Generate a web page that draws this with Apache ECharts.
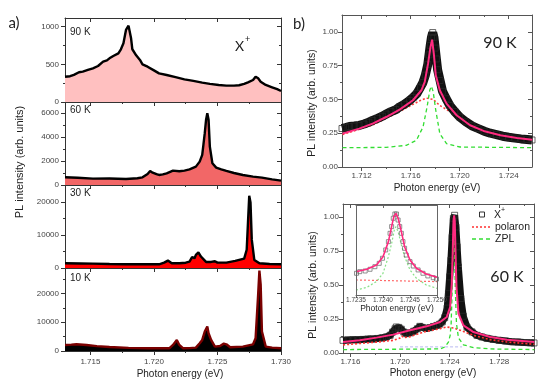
<!DOCTYPE html>
<html><head><meta charset="utf-8">
<script src="https://cdn.jsdelivr.net/npm/echarts@6/dist/echarts.min.js"></script>
<style>html,body{margin:0;padding:0;background:#fff}#c{width:550px;height:387px}</style>
</head><body><div id="c"></div>
<script>
// ---------- a) panels (PL spectra) ----------
const E90 = [1.7130,1.7134,1.7137,1.7141,1.7144,1.7148,1.7152,1.7156,1.7160,1.7163,1.7165,1.7168,1.7172,1.7174,1.7176,1.7178,1.7180,1.7182,1.7183,1.7186,1.7189,1.7191,1.7195,1.7200,1.7204,1.7210,1.7217,1.7224,1.7231,1.7238,1.7244,1.7251,1.7257,1.7263,1.7267,1.7271,1.7274,1.7278,1.7280,1.7282,1.7284,1.7288,1.7293,1.7297,1.7300];
const I90 = [336,342,360,395,403,425,447,478,535,552,580,610,646,700,779,956,1013,845,700,620,558,500,469,420,380,358,330,301,280,257,240,226,217,217,222,240,261,292,336,314,270,226,195,170,146];
const E60 = [1.7130,1.7140,1.7152,1.7165,1.7178,1.7187,1.7191,1.7195,1.7197,1.7199,1.7202,1.7204,1.7207,1.7210,1.7215,1.7220,1.7224,1.7228,1.7233,1.7236,1.7238,1.7239,1.7240,1.7241,1.7242,1.7243,1.7244,1.7246,1.7249,1.7253,1.7257,1.7263,1.7270,1.7278,1.7285,1.7293,1.7300];
const I60 = [639,600,528,540,500,560,639,917,1167,1028,900,833,880,972,1194,1139,1200,1306,1528,1944,2500,3400,4306,5400,5972,5417,3194,1806,1444,1300,1167,1000,833,700,611,472,361];
const E30 = [1.7130,1.7142,1.7152,1.7165,1.7178,1.7192,1.7204,1.7208,1.7211,1.7214,1.7220,1.7225,1.7228,1.7230,1.7232,1.7233,1.7235,1.7237,1.7241,1.7245,1.7248,1.7250,1.7254,1.7257,1.7264,1.7271,1.7273,1.7274,1.7275,1.7276,1.7277,1.7279,1.7283,1.7291,1.7300];
const I30 = [1429,1380,1327,1200,1122,1122,1122,1633,2245,1429,1429,1600,1939,3265,2959,3980,4694,3469,1837,1837,2041,1633,1633,1633,2143,2857,5510,13673,21837,19796,8571,2449,1429,1224,1122];
const E10 = [1.7130,1.7135,1.7139,1.7147,1.7155,1.7165,1.7180,1.7195,1.7212,1.7215,1.7218,1.7220,1.7223,1.7228,1.7233,1.7236,1.7238,1.7240,1.7242,1.7243,1.7245,1.7248,1.7252,1.7255,1.7257,1.7260,1.7270,1.7278,1.7280,1.7282,1.7283,1.7284,1.7285,1.7288,1.7293,1.7300];
const I10 = [2093,2200,2326,2093,1700,1395,1100,930,930,2093,3837,2093,930,1000,1163,2674,3837,6744,8488,6163,3837,1512,1744,2558,2326,1279,1512,2326,4419,19535,27907,23023,6744,1512,1163,930];

// ---------- b) 90 K fit ----------
const D90E = [1.7104,1.7107,1.7110,1.7114,1.7118,1.7122,1.7126,1.7129,1.7133,1.7137,1.7140,1.7144,1.7148,1.7151,1.7155,1.7159,1.7162,1.7165,1.7168,1.7170,1.7172,1.7174,1.7175,1.7176,1.7177,1.7178,1.7179,1.7180,1.7181,1.7182,1.7184,1.7186,1.7189,1.7192,1.7196,1.7200,1.7205,1.7210,1.7215,1.7220,1.7225,1.7230,1.7235,1.7240,1.7245,1.7250,1.7255,1.7259];
const D90 = [0.285,0.292,0.300,0.303,0.308,0.318,0.332,0.345,0.360,0.376,0.392,0.410,0.425,0.445,0.465,0.492,0.515,0.543,0.590,0.625,0.680,0.760,0.830,0.900,0.960,0.995,0.960,0.880,0.800,0.720,0.640,0.560,0.505,0.455,0.410,0.370,0.335,0.305,0.285,0.265,0.250,0.240,0.228,0.220,0.214,0.208,0.204,0.200];
const F90E = [1.71044,1.71181,1.71290,1.71400,1.71510,1.71619,1.71688,1.71715,1.71742,1.71762,1.71775,1.71789,1.71805,1.71838,1.71893,1.71975,1.72085,1.72195,1.72332,1.72468,1.72592];
const F90 = [0.247,0.284,0.321,0.370,0.425,0.494,0.568,0.630,0.765,0.889,0.943,0.840,0.679,0.568,0.469,0.383,0.309,0.267,0.235,0.215,0.202];
const P90E = [1.71044,1.71290,1.71510,1.71674,1.71729,1.71784,1.71838,1.71921,1.72058,1.72249,1.72592];
const P90 = [0.240,0.310,0.410,0.490,0.510,0.500,0.455,0.410,0.330,0.260,0.200];
const Z90E = [1.71044,1.71400,1.71564,1.71647,1.71701,1.71734,1.71756,1.71770,1.71784,1.71805,1.71838,1.71893,1.72003,1.72592];
const Z90 = [0.143,0.145,0.160,0.198,0.296,0.444,0.568,0.598,0.556,0.420,0.247,0.173,0.148,0.143];

// ---------- b) 60 K fit ----------
const D60E = [1.7154,1.7158,1.7162,1.7166,1.7170,1.7174,1.7178,1.7182,1.7186,1.7189,1.7192,1.7194,1.7196,1.7197,1.7199,1.7201,1.7203,1.7205,1.7208,1.7211,1.7214,1.7216,1.7218,1.7221,1.7224,1.7227,1.7230,1.7232,1.7234,1.7236,1.7238,1.7239,1.7240,1.7241,1.7242,1.7243,1.7244,1.7245,1.7246,1.7247,1.7249,1.7251,1.7254,1.7258,1.7262,1.7266,1.7270,1.7275,1.7280,1.7285,1.7290,1.7295,1.7300,1.7305,1.7308];
const D60 = [0.093,0.095,0.097,0.098,0.100,0.102,0.103,0.107,0.112,0.118,0.130,0.154,0.178,0.191,0.188,0.175,0.154,0.142,0.148,0.160,0.178,0.196,0.188,0.180,0.186,0.195,0.203,0.212,0.228,0.260,0.330,0.436,0.560,0.681,0.850,0.990,1.012,0.926,0.780,0.632,0.400,0.270,0.190,0.155,0.130,0.118,0.108,0.100,0.093,0.088,0.083,0.080,0.077,0.075,0.074];
const F60E = [1.71541,1.71676,1.71810,1.71945,1.72080,1.72215,1.72323,1.72377,1.72404,1.72417,1.72425,1.72431,1.72436,1.72441,1.72447,1.72455,1.72471,1.72511,1.72592,1.72727,1.72862,1.73083];
const F60 = [0.081,0.093,0.113,0.135,0.167,0.196,0.228,0.265,0.338,0.510,0.755,0.975,1.012,0.975,0.755,0.485,0.289,0.203,0.154,0.118,0.098,0.081];
const P60E = [1.71541,1.71810,1.71945,1.72000,1.72013,1.72030,1.72080,1.72188,1.72323,1.72377,1.72431,1.72485,1.72592,1.72727,1.72862,1.73083];
const P60 = [0.060,0.080,0.093,0.110,0.125,0.112,0.120,0.154,0.179,0.191,0.184,0.167,0.130,0.098,0.081,0.064];
const Z60E = [1.71541,1.72323,1.72363,1.72390,1.72404,1.72412,1.72420,1.72427,1.72433,1.72439,1.72446,1.72455,1.72471,1.72511,1.72592,1.72727,1.73083];
const Z60 = [0.025,0.030,0.045,0.080,0.130,0.216,0.450,0.750,0.850,0.750,0.450,0.216,0.110,0.060,0.040,0.030,0.025];
const B60E = [1.7200,1.7250];
const B60 = [0.045,0.045];

// ---------- inset (60 K zoom) ----------
const IE = [1.72351,1.72357,1.72367,1.72376,1.72385,1.72393,1.72399,1.72405,1.72410,1.72413,1.72416,1.72419,1.72422,1.72425,1.72428,1.72431,1.72434,1.72437,1.72440,1.72443,1.72450,1.72456,1.72465,1.72474,1.72483,1.72493,1.72499];
const ID = [0.286,0.303,0.310,0.328,0.355,0.390,0.443,0.530,0.617,0.704,0.774,0.861,0.906,0.906,0.843,0.774,0.704,0.617,0.547,0.477,0.408,0.362,0.321,0.286,0.258,0.240,0.226];
const IFE = [1.72350,1.72370,1.72388,1.72400,1.72410,1.72416,1.72420,1.72424,1.72428,1.72434,1.72440,1.72450,1.72462,1.72480,1.72500];
const IF = [0.303,0.328,0.373,0.460,0.617,0.774,0.878,0.913,0.861,0.721,0.564,0.425,0.338,0.279,0.244];
const IZE = [1.72350,1.72370,1.72388,1.72400,1.72410,1.72416,1.72421,1.72424,1.72428,1.72434,1.72440,1.72450,1.72462,1.72480,1.72500];
const IZ = [0.111,0.139,0.199,0.286,0.460,0.599,0.739,0.774,0.721,0.582,0.460,0.321,0.233,0.164,0.129];
const IPE = [1.72350,1.72500];
const IP = [0.216,0.199];

// ---------- tick labels ----------
const leftXLabels = ['1.715','1.720','1.725','1.730'];
const leftXMinor = [1.7175,1.7225,1.7275];
const y90Labels = ['0','500','1000'];   const y90Minor = [250,750];
const y60Labels = ['0','2000','4000','6000']; const y60Minor = [1000,3000,5000];
const y30Labels = ['0','10000','20000']; const y30Minor = [5000,15000];
const y10Labels = ['0','10000','20000']; const y10Minor = [5000,15000,25000];
const rTopXLabels = ['1.712','1.716','1.720','1.724']; const rTopXMinor = [1.714,1.718,1.722];
const rBotXLabels = ['1.716','1.720','1.724','1.728']; const rBotXMinor = [1.718,1.722,1.726,1.730];
const rYLabels = ['0.00','0.25','0.50','0.75','1.00']; const rYMinor = [0.125,0.375,0.625,0.875];
const insetXLabels = ['1.7235','1.7240','1.7245','1.7250'];

// ================= build =================
const FONT = "'Liberation Sans', Arial, sans-serif";
const FONT2 = "Lato, 'Open Sans', sans-serif";
const grids = [], xAxes = [], yAxes = [], series = [];
const zip = (a, b) => a.map((v, i) => [v, b[i]]);
function lab(labels, v) { for (const s of labels) if (Math.abs(Number(s) - v) < 1e-9) return s; return ''; }

function axis(dim, gi, range, pos, opt) {
  const a = {
    type: 'value', gridIndex: gi, min: range[0], max: range[1], position: pos,
    splitLine: { show: false }, offset: 0, z: opt.z || 0,
    axisLine: { show: !!opt.line, onZero: false, lineStyle: { color: opt.color, width: 1 } },
    axisTick: opt.ticks && opt.ticks.length ? { show: true, inside: !!opt.inside, length: opt.len, customValues: opt.ticks, lineStyle: { color: opt.color, width: 1 } } : { show: false },
    axisLabel: opt.labels ? { show: true, customValues: opt.labels.map(Number), formatter: v => lab(opt.labels, v), fontSize: opt.fs || 8, color: '#444', fontFamily: FONT, margin: opt.margin, hideOverlap: false } : { show: false }
  };
  const arr = dim === 'x' ? xAxes : yAxes;
  arr.push(a);
  return arr.length - 1;
}

function panel(box, xr, yr, xLab, xMin, yLab, yMin, o) {
  o = o || {};
  const gi = grids.length;
  const g = { left: box[0], top: box[1], width: box[2], height: box[3] };
  if (o.bg) { g.show = true; g.backgroundColor = '#fff'; g.borderWidth = 0; g.z = 5; }
  grids.push(g);
  const c = o.color || '#333';
  const z = o.z || 0;
  const xi = axis('x', gi, xr, 'bottom', { z, line: true, color: c, ticks: xLab.map(Number), len: o.tl || 4, inside: !!o.xIn, labels: o.xLabels === false ? null : xLab, margin: o.xm || 5, fs: o.fs });
  axis('x', gi, xr, 'bottom', { z, color: c, ticks: xMin, len: 2, inside: !!o.xIn });
  axis('x', gi, xr, 'top', { z, line: true, color: c, ticks: xLab.map(Number), len: o.tl || 4, inside: true });
  axis('x', gi, xr, 'top', { z, color: c, ticks: xMin, len: 2, inside: true });
  const yi = axis('y', gi, yr, 'left', { z, line: true, color: c, ticks: yLab.map(Number), len: 4, labels: yLab.length ? yLab : null, margin: o.ym || 6 });
  axis('y', gi, yr, 'left', { z, color: c, ticks: yMin, len: 2 });
  axis('y', gi, yr, 'right', { z, line: true, color: c, ticks: yLab.map(Number), len: 4, inside: true });
  axis('y', gi, yr, 'right', { z, color: c, ticks: yMin, len: 2, inside: true });
  return { xi, yi };
}

function area(ax, E, I, fill, stroke) {
  series.push({ type: 'line', xAxisIndex: ax.xi, yAxisIndex: ax.yi, data: zip(E, I), symbol: 'none',
    lineStyle: { color: stroke, width: 2.4 }, areaStyle: { color: fill, opacity: 1 }, z: 2, silent: true });
}
function curve(ax, E, V, color, width, dash, z) {
  series.push({ type: 'line', xAxisIndex: ax.xi, yAxisIndex: ax.yi, data: zip(E, V), symbol: 'none',
    lineStyle: { color, width, type: dash || 'solid' }, z, silent: true });
}
function squares(ax, E, V, color, size, z) {
  series.push({ type: 'scatter', xAxisIndex: ax.xi, yAxisIndex: ax.yi, data: zip(E, V), symbol: 'rect', symbolSize: size,
    itemStyle: { color: 'rgba(0,0,0,0)', borderColor: color, borderWidth: 0.9 }, z, silent: true });
}

// left stacked panels
const LX = [1.713, 1.730];
const p1 = panel([65, 18, 216, 84], LX, [0, 1115], leftXLabels, leftXMinor, y90Labels, y90Minor, { xLabels: false, xIn: true, ym: 6 });
const p2 = panel([65, 102, 216, 83], LX, [0, 6900], leftXLabels, leftXMinor, y60Labels, y60Minor, { xLabels: false, xIn: true, ym: 6 });
const p3 = panel([65, 185, 216, 83], LX, [0, 25100], leftXLabels, leftXMinor, y30Labels, y30Minor, { xLabels: false, xIn: true, ym: 6 });
const p4 = panel([65, 268, 216, 83], LX, [0, 28800], leftXLabels, leftXMinor, y10Labels, y10Minor, { xm: 7, ym: 6 });
area(p1, E90, I90, '#ffc0c0', '#000');
area(p2, E60, I60, '#f26767', '#000');
area(p3, E30, I30, '#ff0000', '#000');
area(p4, E10, I10, '#000000', '#7a0000');

// right top (90 K)
const r1 = panel([342, 15, 190, 152], [1.7104, 1.7259], [0, 1.125], rTopXLabels, rTopXMinor, rYLabels, rYMinor, { color: '#555', ym: 4, xm: 5 });
curve(r1, P90E, P90, '#ff3b3b', 1.5, [2, 2], 1);
curve(r1, D90E, D90, '#111', 9, null, 2);
squares(r1, D90E, D90, '#2a2a2a', 6, 3);
curve(r1, Z90E, Z90, '#33dd33', 1.3, [4, 3], 4);
curve(r1, F90E, F90, '#ff2a7f', 2, null, 5);

// right bottom (60 K)
const r2 = panel([343, 204, 191, 149], [1.7154, 1.7308], [0, 1.095], rBotXLabels, rBotXMinor, rYLabels, rYMinor, { color: '#555', ym: 4, xm: 5 });
curve(r2, B60E, B60, '#b8b8f0', 1, [3, 2], 1);
curve(r2, D60E, D60, '#111', 7, null, 2);
squares(r2, D60E, D60, '#2a2a2a', 6, 3);
curve(r2, P60E, P60, '#ff3030', 1.6, [2, 2], 4);
curve(r2, Z60E, Z60, '#33dd33', 1.3, [4, 3], 4);
curve(r2, F60E, F60, '#ff2a7f', 2, null, 5);

// inset
const r3 = panel([356, 205, 81, 90], [1.7235, 1.7250], [0.059, 1], insetXLabels, [], [], [], { color: '#666', bg: true, tl: 3, xm: 2, fs: 6.5, z: 20 });
curve(r3, IPE, IP, '#ff6a6a', 1.2, [2, 2], 11);
curve(r3, IZE, IZ, '#88e088', 1.2, [2, 2], 11);
squares(r3, IE, ID, '#666', 4, 12);
curve(r3, IFE, IF, '#ff2a7f', 1.6, null, 13);

// ---------- text ----------
function txt(t, x, y, size, fam, opt) {
  opt = opt || {};
  const al = opt.align || 'center';
  return { type: 'text', x, y, rotation: opt.rot || 0, z: 100, silent: true,
    style: { text: t, fill: opt.fill || '#222', font: size + 'px ' + fam, textAlign: al, align: al, textVerticalAlign: 'middle', verticalAlign: 'middle' } };
}
const graphics = [
  txt('a)', 14, 23, 15, FONT2),
  txt('b)', 299, 24, 15, FONT2),
  txt('PL intensity (arb. units)', 20, 162, 11, FONT, { rot: Math.PI / 2 }),
  txt('Photon energy (eV)', 180, 374, 10, FONT),
  txt('90 K', 70, 32, 10, FONT, { align: 'left' }),
  txt('60 K', 70, 110, 10, FONT, { align: 'left' }),
  txt('30 K', 70, 193, 10, FONT, { align: 'left' }),
  txt('10 K', 70, 278, 10, FONT, { align: 'left' }),
  txt('X', 235, 46, 14, FONT2, { align: 'left' }),
  txt('+', 245, 39, 9, FONT2, { align: 'left' }),
  txt('PL intensity (arb. units)', 312, 103, 10.5, FONT, { rot: Math.PI / 2 }),
  txt('Photon energy (eV)', 437, 188, 10, FONT),
  txt('90 K', 500, 43, 16, FONT2),
  txt('PL intensity (arb. units)', 313, 285, 10.5, FONT, { rot: Math.PI / 2 }),
  txt('Photon energy (eV)', 433, 373, 10, FONT),
  txt('Photon energy (eV)', 397, 309, 8.5, FONT),
  txt('60 K', 507, 277, 16, FONT2),
  // legend
  { type: 'rect', z: 100, shape: { x: 479.5, y: 212, width: 5, height: 5 }, style: { fill: 'none', stroke: '#333', lineWidth: 1 } },
  txt('X', 494, 215, 10.5, FONT, { align: 'left' }),
  txt('+', 501, 210, 7, FONT, { align: 'left' }),
  { type: 'line', z: 100, shape: { x1: 472, y1: 227, x2: 492, y2: 227 }, style: { stroke: '#ff3030', lineWidth: 1.6, lineDash: [2, 2] } },
  txt('polaron', 495, 227, 10.5, FONT, { align: 'left' }),
  { type: 'line', z: 100, shape: { x1: 472, y1: 239, x2: 492, y2: 239 }, style: { stroke: '#33dd33', lineWidth: 1.3, lineDash: [4, 3] } },
  txt('ZPL', 495, 239, 10.5, FONT, { align: 'left' })
];

const chart = echarts.init(document.getElementById('c'), null, { renderer: 'canvas' });
chart.setOption({
  animation: false,
  backgroundColor: '#fff',
  grid: grids, xAxis: xAxes, yAxis: yAxes, series,
  graphic: { elements: graphics }
});
</script></body></html>
